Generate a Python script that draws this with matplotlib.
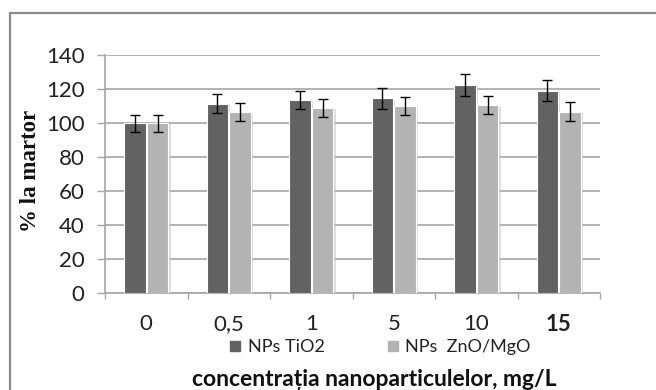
import matplotlib
matplotlib.use("Agg")
import matplotlib.pyplot as plt
import numpy as np
from matplotlib.lines import Line2D
from matplotlib.patches import Rectangle
import matplotlib.patheffects as pe

categories = ["0", "0,5", "1", "5", "10", "15"]
tio2 = [100.0, 111.5, 113.5, 114.5, 122.5, 119.0]
tio2_err = [5.0, 5.4, 5.4, 6.0, 6.3, 6.3]
zno = [100.0, 106.3, 108.8, 110.0, 110.8, 106.8]
zno_err = [5.0, 5.3, 5.2, 5.4, 5.3, 5.4]
series_names = ["NPs TiO2", "NPs  ZnO/MgO"]
yticks = [0, 20, 40, 60, 80, 100, 120, 140]

W, H = 656, 390
fig = plt.figure(figsize=(W / 100, H / 100), dpi=100)
fig.patch.set_facecolor("white")

# outer frame
fig.patches.append(Rectangle((10 / W, -0.05), 1.2, (H - 13) / H + 0.05,
                             transform=fig.transFigure, fill=False,
                             edgecolor="#8a8a8a", linewidth=1.6))

ax = fig.add_axes([105 / W, (H - 293.3) / H, 495 / W, 238.3 / H])

dark = "#626262"
light = "#b3b3b3"
grid_c = "#a6a6a6"

x = np.arange(len(categories))
bw = 0.262
off = 0.138
shadow = [pe.SimplePatchShadow(offset=(1.5, -1.0), shadow_rgbFace="#c8c8c8", alpha=0.6), pe.Normal()]
b1 = ax.bar(x - off, tio2, bw, color=dark, edgecolor="white", linewidth=0.8, zorder=3)
b2 = ax.bar(x + off, zno, bw, color=light, edgecolor="white", linewidth=0.8, zorder=3)
for b in list(b1) + list(b2):
    b.set_path_effects(shadow)
ax.errorbar(x - off, tio2, yerr=tio2_err, fmt="none", ecolor="black",
            elinewidth=1.0, capsize=3.8, capthick=1.0, zorder=4)
ax.errorbar(x + off, zno, yerr=zno_err, fmt="none", ecolor="black",
            elinewidth=1.0, capsize=3.8, capthick=1.0, zorder=4)

ax.set_xlim(-0.5, len(categories) - 0.5)
ax.set_ylim(0, 140)
ax.set_yticks(yticks)
ax.set_yticklabels([str(v) for v in yticks], fontfamily="Lato", fontsize=16, color="#222222")
ax.yaxis.grid(True, color=grid_c, linewidth=1.2, zorder=0)
ax.set_axisbelow(True)

ax.set_xticks(np.arange(len(categories) + 1) - 0.5)
ax.set_xticklabels([])
ax.set_xticks(x, minor=True)
ax.set_xticklabels(categories, minor=True, fontfamily="Lato", fontsize=16, color="#222222")
ax.tick_params(axis="x", which="minor", length=0, pad=15)
ax.tick_params(axis="x", which="major", length=4.5, width=1.0, color=grid_c, direction="out")
ax.tick_params(axis="y", length=5.8, width=1.0, color=grid_c, direction="out", pad=9)
for lbl in ax.get_xticklabels(minor=True):
    if lbl.get_text() == "15":
        lbl.set_fontweight("bold")

for s in ["top", "right"]:
    ax.spines[s].set_visible(False)
for s in ["left", "bottom"]:
    ax.spines[s].set_color(grid_c)
    ax.spines[s].set_linewidth(1.2)

fig.text(30 / W, (H - 171) / H, "% la martor", rotation=90, ha="center", va="center",
         fontfamily="Liberation Serif", fontweight="bold", fontsize=16.5, color="#111111")

fig.text(374 / W, 3.5 / H, "concentrația nanoparticulelor, mg/L", ha="center", va="baseline",
         fontfamily="Lato", fontweight="bold", fontsize=16.5, color="#111111")

handles = [Line2D([], [], marker="s", linestyle="none", markersize=7.2, color=dark),
           Line2D([], [], marker="s", linestyle="none", markersize=7.2, color=light)]
fig.legend(handles, series_names, loc="center", bbox_to_anchor=(380 / W, (H - 347) / H),
           ncol=2, frameon=False, prop={"family": "Lato", "size": 13},
           handlelength=0.7, handletextpad=0.35, columnspacing=3.4, labelcolor="#222222",
           borderpad=0, borderaxespad=0)

fig.savefig("out.png", dpi=100)
